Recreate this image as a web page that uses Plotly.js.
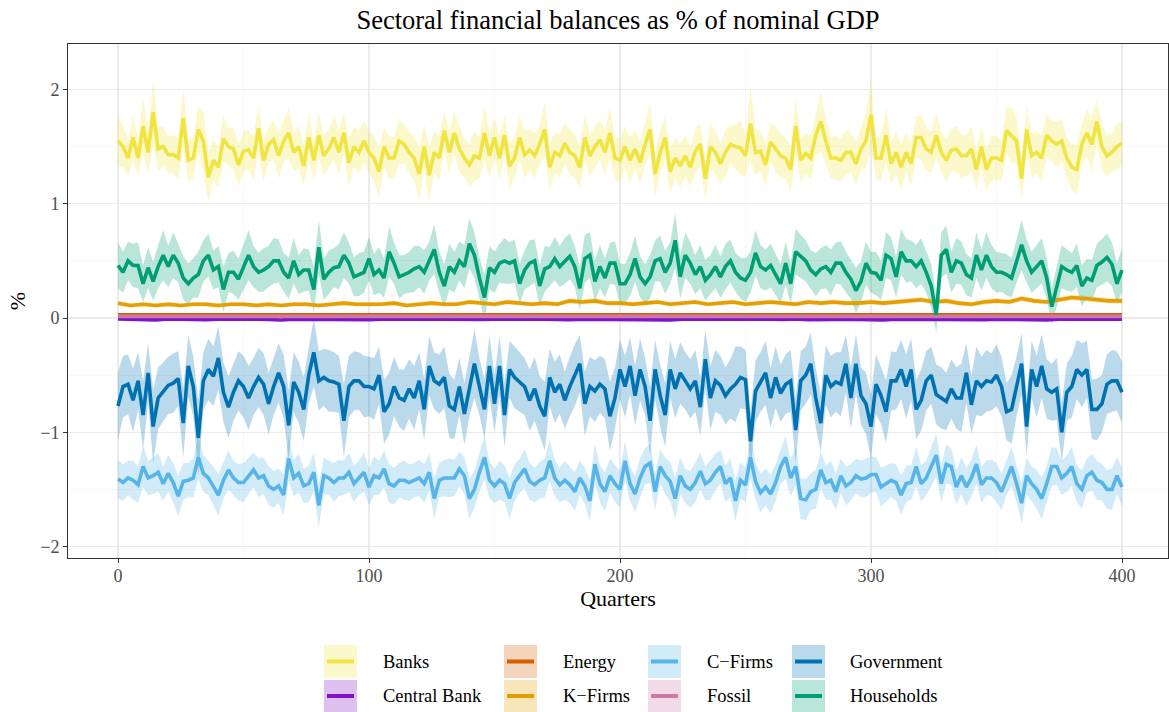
<!DOCTYPE html>
<html>
<head>
<meta charset="utf-8">
<script src="https://cdn.plot.ly/plotly-3.0.1.min.js"></script>
<style>html,body{margin:0;padding:0;background:#fff;}#chart{width:1169px;height:712px;}</style>
</head>
<body>
<div id="chart"></div>
<script>
// ---------- DATA ----------
const quarters = Array.from({length: 201}, (_, i) => i * 2);        // 0,2,...,400
const quartersCoarse = Array.from({length: 81}, (_, i) => i * 5);   // 0,5,...,400

const seriesNames = ["Banks", "Central Bank", "Energy", "K\u2212Firms", "C\u2212Firms", "Fossil", "Government", "Households"];

const banks = [
1.55,1.50,1.40,1.58,1.40,1.68,1.45,1.80,1.48,1.50,
1.43,1.43,1.40,1.75,1.38,1.40,1.65,1.55,1.23,1.38,
1.32,1.57,1.50,1.48,1.34,1.46,1.47,1.40,1.66,1.38,
1.52,1.56,1.42,1.55,1.62,1.45,1.50,1.33,1.58,1.38,
1.60,1.42,1.48,1.58,1.45,1.62,1.36,1.50,1.45,1.55,
1.45,1.40,1.28,1.50,1.40,1.40,1.55,1.52,1.45,1.40,
1.26,1.50,1.25,1.45,1.40,1.64,1.45,1.62,1.48,1.40,
1.34,1.42,1.40,1.62,1.42,1.58,1.40,1.60,1.33,1.40,
1.58,1.43,1.47,1.42,1.52,1.65,1.32,1.45,1.42,1.53,
1.45,1.42,1.32,1.58,1.42,1.50,1.56,1.45,1.62,1.40,
1.38,1.50,1.38,1.48,1.36,1.52,1.65,1.26,1.45,1.58,
1.28,1.40,1.33,1.42,1.32,1.46,1.52,1.22,1.50,1.45,
1.35,1.45,1.52,1.50,1.49,1.42,1.70,1.45,1.46,1.34,
1.54,1.48,1.42,1.40,1.30,1.68,1.38,1.44,1.40,1.60,
1.72,1.55,1.40,1.40,1.38,1.45,1.45,1.35,1.48,1.55,
1.78,1.40,1.40,1.60,1.35,1.45,1.32,1.45,1.35,1.58,
1.58,1.48,1.45,1.60,1.45,1.38,1.47,1.48,1.42,1.42,
1.48,1.30,1.50,1.30,1.40,1.40,1.38,1.64,1.60,1.55,
1.22,1.65,1.42,1.45,1.40,1.60,1.55,1.52,1.55,1.40,
1.32,1.30,1.52,1.62,1.52,1.72,1.50,1.42,1.45,1.50,
1.53];
const banksSpread = [
0.22,0.18,0.16,0.20,0.17,0.24,0.18,0.28,0.20,0.17,
0.16,0.17,0.18,0.26,0.19,0.17,0.20,0.27,0.22,0.18,
0.17,0.20,0.16,0.18,0.19,0.18,0.17,0.19,0.20,0.18,
0.16,0.17,0.20,0.18,0.22,0.17,0.19,0.18,0.21,0.17,
0.20,0.18,0.17,0.19,0.20,0.18,0.22,0.17,0.19,0.18,
0.18,0.20,0.22,0.17,0.19,0.18,0.20,0.17,0.18,0.19,
0.24,0.19,0.25,0.18,0.20,0.17,0.19,0.18,0.20,0.17,
0.19,0.22,0.18,0.24,0.20,0.18,0.19,0.17,0.20,0.18,
0.19,0.21,0.18,0.20,0.17,0.24,0.20,0.18,0.19,0.18,
0.20,0.19,0.18,0.20,0.18,0.19,0.17,0.20,0.22,0.19,
0.19,0.18,0.20,0.17,0.19,0.18,0.22,0.20,0.18,0.19,
0.20,0.18,0.19,0.18,0.17,0.20,0.19,0.18,0.20,0.19,
0.18,0.20,0.17,0.19,0.24,0.18,0.32,0.20,0.18,0.19,
0.17,0.20,0.19,0.18,0.20,0.25,0.19,0.18,0.20,0.17,
0.27,0.20,0.18,0.19,0.18,0.20,0.17,0.19,0.18,0.24,
0.30,0.18,0.20,0.24,0.18,0.19,0.20,0.17,0.19,0.18,
0.20,0.19,0.18,0.20,0.17,0.19,0.18,0.20,0.19,0.18,
0.20,0.17,0.19,0.18,0.20,0.19,0.18,0.20,0.24,0.20,
0.19,0.20,0.20,0.18,0.20,0.19,0.18,0.20,0.19,0.18,
0.20,0.22,0.18,0.20,0.24,0.19,0.20,0.18,0.17,0.20,
0.19];

const households = [
0.46,0.40,0.50,0.46,0.46,0.30,0.44,0.32,0.45,0.55,
0.45,0.55,0.48,0.35,0.30,0.35,0.38,0.50,0.55,0.42,
0.45,0.25,0.40,0.40,0.34,0.45,0.55,0.45,0.40,0.42,
0.45,0.50,0.50,0.40,0.35,0.50,0.38,0.42,0.42,0.25,
0.62,0.34,0.40,0.44,0.45,0.55,0.48,0.36,0.38,0.40,
0.52,0.38,0.42,0.35,0.58,0.48,0.36,0.38,0.40,0.43,
0.45,0.40,0.50,0.60,0.40,0.28,0.45,0.40,0.50,0.45,
0.65,0.55,0.35,0.18,0.44,0.40,0.48,0.50,0.48,0.50,
0.30,0.42,0.48,0.50,0.28,0.43,0.45,0.52,0.45,0.50,
0.54,0.45,0.26,0.52,0.55,0.32,0.45,0.35,0.48,0.48,
0.30,0.30,0.38,0.52,0.36,0.30,0.36,0.50,0.52,0.40,
0.48,0.68,0.36,0.55,0.48,0.38,0.45,0.33,0.38,0.45,
0.36,0.45,0.50,0.40,0.35,0.33,0.40,0.57,0.45,0.42,
0.46,0.38,0.30,0.48,0.30,0.58,0.54,0.50,0.42,0.38,
0.43,0.45,0.40,0.48,0.48,0.40,0.34,0.24,0.32,0.48,
0.40,0.39,0.33,0.55,0.52,0.36,0.58,0.50,0.50,0.45,
0.50,0.40,0.28,0.03,0.55,0.60,0.40,0.50,0.48,0.38,
0.35,0.55,0.42,0.55,0.45,0.40,0.40,0.38,0.35,0.50,
0.64,0.50,0.40,0.45,0.50,0.35,0.10,0.27,0.45,0.42,
0.40,0.46,0.28,0.35,0.33,0.46,0.49,0.53,0.47,0.30,
0.42];
const householdsSpread = [
0.20,0.18,0.17,0.19,0.20,0.16,0.18,0.17,0.19,0.22,
0.18,0.20,0.17,0.19,0.18,0.17,0.20,0.18,0.19,0.17,
0.18,0.20,0.17,0.19,0.18,0.20,0.22,0.18,0.17,0.19,
0.18,0.20,0.19,0.17,0.18,0.20,0.17,0.19,0.18,0.20,
0.24,0.18,0.19,0.17,0.20,0.20,0.18,0.17,0.19,0.18,
0.19,0.18,0.20,0.17,0.22,0.18,0.19,0.17,0.18,0.20,
0.18,0.19,0.17,0.22,0.18,0.19,0.20,0.18,0.17,0.19,
0.22,0.20,0.18,0.20,0.19,0.18,0.17,0.20,0.18,0.19,
0.18,0.17,0.20,0.19,0.18,0.20,0.17,0.19,0.18,0.20,
0.20,0.18,0.19,0.21,0.20,0.18,0.19,0.17,0.18,0.19,
0.18,0.17,0.19,0.20,0.18,0.17,0.19,0.18,0.20,0.19,
0.18,0.24,0.19,0.20,0.18,0.17,0.19,0.18,0.17,0.19,
0.18,0.20,0.19,0.17,0.18,0.19,0.18,0.20,0.19,0.18,
0.19,0.18,0.17,0.19,0.18,0.20,0.19,0.18,0.17,0.19,
0.18,0.19,0.20,0.18,0.19,0.18,0.17,0.20,0.18,0.19,
0.18,0.19,0.17,0.20,0.19,0.18,0.20,0.19,0.18,0.19,
0.20,0.18,0.19,0.16,0.20,0.21,0.18,0.20,0.19,0.18,
0.17,0.20,0.18,0.20,0.19,0.18,0.17,0.18,0.17,0.19,
0.22,0.19,0.18,0.19,0.20,0.18,0.16,0.18,0.19,0.18,
0.17,0.19,0.18,0.17,0.18,0.19,0.20,0.21,0.19,0.18,
0.19];

const government = [
-0.77,-0.60,-0.58,-0.72,-0.55,-0.85,-0.48,-0.95,-0.70,-0.65,
-0.59,-0.57,-0.53,-0.92,-0.42,-0.60,-1.05,-0.55,-0.45,-0.51,
-0.35,-0.65,-0.78,-0.65,-0.55,-0.60,-0.70,-0.60,-0.52,-0.58,
-0.75,-0.60,-0.48,-0.60,-0.94,-0.56,-0.65,-0.80,-0.50,-0.30,
-0.55,-0.52,-0.55,-0.56,-0.58,-0.90,-0.60,-0.55,-0.55,-0.60,
-0.60,-0.62,-0.50,-0.82,-0.75,-0.60,-0.70,-0.72,-0.62,-0.70,
-0.55,-0.80,-0.42,-0.55,-0.58,-0.52,-0.77,-0.80,-0.60,-0.84,
-0.60,-0.40,-0.60,-0.80,-0.42,-0.75,-0.42,-0.85,-0.45,-0.52,
-0.56,-0.60,-0.72,-0.62,-0.77,-0.86,-0.52,-0.65,-0.58,-0.72,
-0.60,-0.50,-0.40,-0.75,-0.60,-0.64,-0.58,-0.62,-0.86,-0.70,
-0.45,-0.60,-0.42,-0.68,-0.45,-0.60,-0.90,-0.45,-0.68,-0.85,
-0.45,-0.62,-0.48,-0.55,-0.62,-0.55,-0.78,-0.36,-0.70,-0.55,
-0.59,-0.68,-0.62,-0.58,-0.52,-0.54,-1.08,-0.64,-0.56,-0.48,
-0.70,-0.52,-0.66,-0.58,-0.55,-0.98,-0.55,-0.50,-0.40,-0.70,
-0.92,-0.50,-0.60,-0.56,-0.58,-0.40,-0.70,-0.40,-0.68,-0.75,
-0.95,-0.58,-0.68,-0.82,-0.55,-0.55,-0.45,-0.60,-0.45,-0.80,
-0.72,-0.55,-0.50,-0.67,-0.70,-0.73,-0.62,-0.70,-0.70,-0.48,
-0.76,-0.55,-0.60,-0.55,-0.56,-0.50,-0.60,-0.82,-0.80,-0.60,
-0.40,-0.95,-0.45,-0.60,-0.42,-0.62,-0.65,-0.62,-1.00,-0.65,
-0.60,-0.45,-0.50,-0.45,-0.80,-0.80,-0.75,-0.58,-0.55,-0.55,
-0.65];
const governmentSpread = [
0.30,0.27,0.26,0.28,0.25,0.30,0.26,0.32,0.27,0.26,
0.25,0.26,0.24,0.30,0.27,0.26,0.33,0.25,0.27,0.26,
0.28,0.26,0.27,0.25,0.26,0.27,0.28,0.25,0.26,0.27,
0.27,0.25,0.26,0.28,0.30,0.26,0.27,0.28,0.25,0.30,
0.26,0.25,0.27,0.26,0.25,0.32,0.27,0.26,0.25,0.27,
0.26,0.27,0.25,0.28,0.27,0.26,0.25,0.27,0.26,0.28,
0.25,0.27,0.26,0.25,0.26,0.27,0.28,0.26,0.25,0.27,
0.26,0.30,0.25,0.26,0.27,0.25,0.26,0.28,0.25,0.27,
0.26,0.25,0.27,0.28,0.26,0.30,0.25,0.27,0.26,0.25,
0.26,0.27,0.25,0.28,0.26,0.27,0.25,0.26,0.30,0.27,
0.26,0.27,0.25,0.26,0.27,0.25,0.30,0.26,0.27,0.28,
0.25,0.26,0.27,0.25,0.26,0.27,0.25,0.26,0.28,0.27,
0.26,0.25,0.26,0.33,0.27,0.26,0.25,0.27,0.26,0.28,
0.26,0.27,0.25,0.26,0.27,0.28,0.26,0.25,0.27,0.26,
0.25,0.26,0.27,0.26,0.28,0.25,0.27,0.26,0.25,0.27,
0.28,0.26,0.25,0.27,0.26,0.25,0.26,0.28,0.27,0.26,
0.27,0.26,0.25,0.26,0.27,0.25,0.26,0.27,0.30,0.26,
0.25,0.30,0.26,0.27,0.25,0.27,0.26,0.25,0.30,0.26,
0.27,0.26,0.25,0.27,0.28,0.26,0.25,0.27,0.26,0.25,
0.27,0.26,0.28,0.25,0.26,0.27,0.25,0.26,0.27,0.26,
0.27];

const cFirms = [
-1.41,-1.44,-1.40,-1.42,-1.46,-1.30,-1.40,-1.38,-1.35,-1.45,
-1.36,-1.44,-1.56,-1.43,-1.42,-1.40,-1.22,-1.36,-1.40,-1.47,
-1.55,-1.42,-1.33,-1.40,-1.44,-1.44,-1.38,-1.33,-1.40,-1.38,
-1.47,-1.50,-1.47,-1.55,-1.23,-1.40,-1.36,-1.47,-1.45,-1.35,
-1.64,-1.38,-1.40,-1.44,-1.40,-1.40,-1.35,-1.45,-1.40,-1.35,
-1.48,-1.38,-1.40,-1.32,-1.45,-1.47,-1.42,-1.42,-1.44,-1.42,
-1.40,-1.45,-1.35,-1.58,-1.42,-1.40,-1.40,-1.40,-1.32,-1.38,
-1.58,-1.50,-1.35,-1.22,-1.42,-1.47,-1.42,-1.45,-1.58,-1.44,
-1.38,-1.32,-1.43,-1.46,-1.42,-1.40,-1.25,-1.40,-1.46,-1.42,
-1.46,-1.52,-1.40,-1.47,-1.60,-1.28,-1.45,-1.52,-1.38,-1.45,
-1.50,-1.25,-1.45,-1.54,-1.40,-1.30,-1.27,-1.52,-1.30,-1.38,
-1.43,-1.58,-1.38,-1.47,-1.50,-1.44,-1.34,-1.45,-1.42,-1.35,
-1.30,-1.45,-1.40,-1.60,-1.42,-1.46,-1.22,-1.43,-1.53,-1.48,
-1.54,-1.44,-1.30,-1.22,-1.40,-1.30,-1.58,-1.59,-1.52,-1.50,
-1.33,-1.44,-1.42,-1.52,-1.38,-1.47,-1.44,-1.38,-1.41,-1.40,
-1.37,-1.37,-1.48,-1.45,-1.42,-1.44,-1.55,-1.45,-1.44,-1.30,
-1.45,-1.40,-1.30,-1.20,-1.45,-1.28,-1.30,-1.48,-1.38,-1.48,
-1.40,-1.28,-1.46,-1.40,-1.40,-1.44,-1.52,-1.40,-1.30,-1.45,
-1.62,-1.38,-1.45,-1.50,-1.58,-1.45,-1.30,-1.30,-1.40,-1.36,
-1.30,-1.45,-1.50,-1.38,-1.35,-1.42,-1.44,-1.50,-1.50,-1.38,
-1.48];
const cFirmsSpread = [
0.17,0.16,0.15,0.17,0.16,0.18,0.15,0.16,0.17,0.15,
0.16,0.17,0.18,0.16,0.15,0.17,0.19,0.16,0.15,0.17,
0.18,0.16,0.17,0.15,0.16,0.17,0.16,0.15,0.17,0.16,
0.17,0.16,0.15,0.18,0.19,0.16,0.17,0.15,0.16,0.17,
0.19,0.16,0.15,0.17,0.16,0.15,0.17,0.16,0.15,0.17,
0.16,0.17,0.15,0.16,0.17,0.16,0.15,0.17,0.16,0.15,
0.16,0.17,0.16,0.18,0.15,0.16,0.17,0.16,0.15,0.16,
0.18,0.16,0.17,0.19,0.16,0.15,0.17,0.16,0.18,0.16,
0.15,0.17,0.16,0.15,0.16,0.17,0.18,0.16,0.15,0.17,
0.16,0.17,0.15,0.16,0.18,0.17,0.16,0.17,0.15,0.16,
0.16,0.17,0.15,0.16,0.17,0.16,0.17,0.16,0.15,0.16,
0.17,0.18,0.16,0.15,0.16,0.17,0.16,0.15,0.17,0.16,
0.15,0.16,0.17,0.18,0.16,0.15,0.19,0.16,0.17,0.16,
0.17,0.16,0.15,0.19,0.16,0.17,0.18,0.18,0.16,0.17,
0.16,0.15,0.17,0.16,0.15,0.17,0.16,0.15,0.16,0.17,
0.16,0.15,0.17,0.16,0.15,0.16,0.17,0.16,0.15,0.17,
0.16,0.15,0.17,0.19,0.16,0.17,0.16,0.15,0.16,0.17,
0.16,0.17,0.16,0.15,0.16,0.17,0.16,0.15,0.17,0.16,
0.18,0.16,0.15,0.17,0.18,0.16,0.17,0.16,0.15,0.16,
0.17,0.16,0.17,0.15,0.16,0.17,0.16,0.17,0.18,0.16,
0.17];

const kFirms = [
0.13,0.11,0.12,0.11,0.12,0.11,0.12,0.12,0.11,0.12,
0.12,0.11,0.12,0.11,0.12,0.12,0.11,0.12,0.13,0.12,
0.12,0.12,0.13,0.11,0.12,0.13,0.12,0.12,0.14,0.13,
0.12,0.14,0.13,0.12,0.13,0.12,0.15,0.14,0.15,0.13,
0.13,0.12,0.13,0.14,0.12,0.13,0.14,0.12,0.13,0.14,
0.12,0.13,0.14,0.13,0.12,0.14,0.13,0.14,0.13,0.13,
0.14,0.13,0.14,0.15,0.16,0.14,0.15,0.13,0.12,0.14,
0.15,0.14,0.17,0.15,0.14,0.16,0.18,0.17,0.16,0.15,
0.15];
const kFirmsSpread = [
0.020,0.018,0.020,0.019,0.021,0.018,0.020,0.019,0.020,0.018,
0.020,0.019,0.021,0.018,0.020,0.019,0.020,0.018,0.021,0.019,
0.020,0.018,0.021,0.019,0.020,0.021,0.019,0.020,0.022,0.020,
0.019,0.021,0.020,0.019,0.021,0.020,0.022,0.021,0.022,0.020,
0.020,0.019,0.021,0.020,0.019,0.021,0.020,0.019,0.021,0.020,
0.019,0.020,0.021,0.020,0.019,0.021,0.020,0.021,0.020,0.020,
0.021,0.020,0.021,0.022,0.023,0.021,0.022,0.020,0.021,0.021,
0.022,0.021,0.024,0.022,0.021,0.023,0.025,0.024,0.023,0.022,
0.022];

const energy = [
0.028,0.027,0.028,0.028,0.027,0.028,0.028,0.027,0.028,0.028,
0.027,0.028,0.028,0.027,0.028,0.028,0.027,0.028,0.028,0.027,
0.028,0.028,0.027,0.028,0.028,0.027,0.028,0.028,0.027,0.028,
0.028,0.027,0.028,0.028,0.027,0.028,0.028,0.027,0.028,0.028,
0.027,0.028,0.028,0.027,0.028,0.028,0.027,0.028,0.028,0.027,
0.028,0.028,0.027,0.028,0.028,0.027,0.028,0.028,0.027,0.028,
0.028,0.027,0.028,0.028,0.027,0.028,0.028,0.027,0.028,0.028,
0.027,0.028,0.028,0.027,0.028,0.028,0.027,0.028,0.028,0.027,
0.028];
const energySpread = [
0.006,0.006,0.006,0.006,0.006,0.006,0.006,0.006,0.006,0.006,
0.006,0.006,0.006,0.006,0.006,0.006,0.006,0.006,0.006,0.006,
0.006,0.006,0.006,0.006,0.006,0.006,0.006,0.006,0.006,0.006,
0.006,0.006,0.006,0.006,0.006,0.006,0.006,0.006,0.006,0.006,
0.006,0.006,0.006,0.006,0.006,0.006,0.006,0.006,0.006,0.006,
0.006,0.006,0.006,0.006,0.006,0.006,0.006,0.006,0.006,0.006,
0.006,0.006,0.006,0.006,0.006,0.006,0.006,0.006,0.006,0.006,
0.006,0.006,0.006,0.006,0.006,0.006,0.006,0.006,0.006,0.006,
0.006];

const fossil = [
0.014,0.014,0.013,0.014,0.014,0.013,0.014,0.014,0.013,0.014,
0.014,0.013,0.014,0.014,0.013,0.014,0.014,0.013,0.014,0.014,
0.013,0.014,0.014,0.013,0.014,0.014,0.013,0.014,0.014,0.013,
0.014,0.014,0.013,0.014,0.014,0.013,0.014,0.014,0.013,0.014,
0.014,0.013,0.014,0.014,0.013,0.014,0.014,0.013,0.014,0.014,
0.013,0.014,0.014,0.013,0.014,0.014,0.013,0.014,0.014,0.013,
0.014,0.014,0.013,0.014,0.014,0.013,0.014,0.014,0.013,0.014,
0.014,0.013,0.014,0.014,0.013,0.014,0.014,0.013,0.014,0.014,
0.014];
const fossilSpread = [
0.014,0.014,0.014,0.014,0.014,0.014,0.014,0.014,0.014,0.014,
0.014,0.014,0.014,0.014,0.014,0.014,0.014,0.014,0.014,0.014,
0.014,0.014,0.014,0.014,0.014,0.014,0.014,0.014,0.014,0.014,
0.014,0.014,0.014,0.014,0.014,0.014,0.014,0.014,0.014,0.014,
0.014,0.014,0.014,0.014,0.014,0.014,0.014,0.014,0.014,0.014,
0.014,0.014,0.014,0.014,0.014,0.014,0.014,0.014,0.014,0.014,
0.014,0.014,0.014,0.014,0.014,0.014,0.014,0.014,0.014,0.014,
0.014,0.014,0.014,0.014,0.014,0.014,0.014,0.014,0.014,0.014,
0.014];

const centralBank = [
-0.008,-0.012,-0.010,-0.016,-0.009,-0.013,-0.010,-0.015,-0.011,-0.009,
-0.014,-0.010,-0.012,-0.017,-0.010,-0.011,-0.014,-0.009,-0.012,-0.010,
-0.015,-0.011,-0.012,-0.009,-0.016,-0.011,-0.010,-0.013,-0.009,-0.012,
-0.010,-0.014,-0.011,-0.009,-0.013,-0.010,-0.015,-0.011,-0.012,-0.009,
-0.012,-0.014,-0.010,-0.011,-0.016,-0.010,-0.012,-0.009,-0.013,-0.011,
-0.010,-0.014,-0.011,-0.012,-0.009,-0.015,-0.010,-0.012,-0.011,-0.013,
-0.010,-0.016,-0.011,-0.012,-0.009,-0.014,-0.010,-0.012,-0.011,-0.015,
-0.010,-0.013,-0.011,-0.012,-0.016,-0.010,-0.011,-0.014,-0.010,-0.013,
-0.011];
const centralBankSpread = [
0.010,0.010,0.010,0.010,0.010,0.010,0.010,0.010,0.010,0.010,
0.010,0.010,0.010,0.010,0.010,0.010,0.010,0.010,0.010,0.010,
0.010,0.010,0.010,0.010,0.010,0.010,0.010,0.010,0.010,0.010,
0.010,0.010,0.010,0.010,0.010,0.010,0.010,0.010,0.010,0.010,
0.010,0.010,0.010,0.010,0.010,0.010,0.010,0.010,0.010,0.010,
0.010,0.010,0.010,0.010,0.010,0.010,0.010,0.010,0.010,0.010,
0.010,0.010,0.010,0.010,0.010,0.010,0.010,0.010,0.010,0.010,
0.010,0.010,0.010,0.010,0.010,0.010,0.010,0.010,0.010,0.010,
0.010];

// ---------- STYLE ----------
const FONT = "'Liberation Serif', 'DejaVu Serif', serif";
const lineColors = {
  "Banks": "#F0E442", "Central Bank": "#8214C8", "Energy": "#D55E00", "K\u2212Firms": "#E69F00",
  "C\u2212Firms": "#56B4E9", "Fossil": "#CC79A7", "Government": "#0072B2", "Households": "#009E73"
};
const bandAlpha = 0.27;
function rgba(hex, a) {
  const r = parseInt(hex.slice(1,3),16), g = parseInt(hex.slice(3,5),16), b = parseInt(hex.slice(5,7),16);
  return `rgba(${r},${g},${b},${a})`;
}
function blendWhite(hex, a) {
  const c = [1,3,5].map(i => parseInt(hex.slice(i,i+2),16));
  return `rgb(${c.map(v => Math.round(255 - a*(255-v))).join(',')})`;
}

const seriesTable = [
  {name: "Banks", x: quarters, y: banks, s: banksSpread},
  {name: "Central Bank", x: quartersCoarse, y: centralBank, s: centralBankSpread},
  {name: "Energy", x: quartersCoarse, y: energy, s: energySpread},
  {name: "K\u2212Firms", x: quartersCoarse, y: kFirms, s: kFirmsSpread},
  {name: "C\u2212Firms", x: quarters, y: cFirms, s: cFirmsSpread},
  {name: "Fossil", x: quartersCoarse, y: fossil, s: fossilSpread},
  {name: "Government", x: quarters, y: government, s: governmentSpread},
  {name: "Households", x: quarters, y: households, s: householdsSpread}
];

const traces = [];
// ribbons first
seriesTable.forEach(d => {
  const upper = d.y.map((v, i) => v + d.s[i]);
  const lower = d.y.map((v, i) => v - d.s[i]);
  traces.push({
    type: "scatter", mode: "lines",
    x: d.x.concat(d.x.slice().reverse()),
    y: upper.concat(lower.slice().reverse()),
    fill: "toself", fillcolor: rgba(lineColors[d.name], bandAlpha),
    line: {width: 0, color: "rgba(0,0,0,0)"},
    hoverinfo: "skip", showlegend: false
  });
});
// lines on top
seriesTable.forEach(d => {
  traces.push({
    type: "scatter", mode: "lines", name: d.name,
    x: d.x, y: d.y,
    line: {color: lineColors[d.name], width: 3.6},
    showlegend: false
  });
});

// ---------- LAYOUT ----------
const W = 1169, H = 712;
const M = {l: 68, r: 1, t: 44, b: 154};
const PW = W - M.l - M.r, PH = H - M.t - M.b;
const px2x = p => (p - M.l) / PW;
const py2y = p => (H - M.b - p) / PH;

// manual ggplot-style legend (2 rows x 4 columns, filled key with line)
const legendCols = [324, 504, 648, 792];
const legendTextX = [381, 561, 705, 848];
const legendRows = [[645, 678], [680, 712]];
const legendOrder = [["Banks", "Central Bank"], ["Energy", "K\u2212Firms"], ["C\u2212Firms", "Fossil"], ["Government", "Households"]];
const shapes = [], annotations = [];
legendOrder.forEach((col, ci) => {
  col.forEach((nm, ri) => {
    const [y0, y1] = legendRows[ri];
    const x0 = legendCols[ci], x1 = x0 + 33;
    shapes.push({type: "rect", xref: "paper", yref: "paper",
      x0: px2x(x0), x1: px2x(x1), y0: py2y(y1), y1: py2y(y0),
      fillcolor: blendWhite(lineColors[nm], bandAlpha), line: {width: 0}, layer: "above"});
    const yc = py2y((y0 + y1) / 2);
    shapes.push({type: "line", xref: "paper", yref: "paper",
      x0: px2x(x0 + 3), x1: px2x(x1 - 3), y0: yc, y1: yc,
      line: {color: lineColors[nm], width: 4}, layer: "above"});
    annotations.push({xref: "paper", yref: "paper", x: px2x(legendTextX[ci]), y: yc,
      xanchor: "left", yanchor: "middle", showarrow: false, text: nm,
      font: {family: FONT, size: 18.5, color: "#000"}});
  });
});

const layout = {
  width: W, height: H,
  margin: M,
  paper_bgcolor: "#fff", plot_bgcolor: "#fff",
  showlegend: false,
  title: {text: "Sectoral financial balances as % of nominal GDP",
          font: {family: FONT, size: 26.5, color: "#000"},
          x: 0.5, xref: "paper", xanchor: "center", y: 1 - 20 / H, yref: "container", yanchor: "middle"},
  xaxis: {
    range: [(M.l - 118) / 2.51, (M.l + PW - 118) / 2.51],
    tickmode: "array", tickvals: [0, 100, 200, 300, 400],
    ticks: "outside", ticklen: 4, tickcolor: "#333", tickwidth: 1,
    ticklabelstandoff: -3,
    tickfont: {family: FONT, size: 18, color: "#4d4d4d"},
    showgrid: true, gridcolor: "#ebebeb", gridwidth: 1.1,
    minor: {tickvals: [50, 150, 250, 350], showgrid: true, gridcolor: "#f2f2f2", gridwidth: 0.6, ticks: ""},
    zeroline: false, showline: true, mirror: true, linecolor: "#333", linewidth: 1,
    title: {text: "Quarters", font: {family: FONT, size: 22, color: "#000"}, standoff: 0},
    automargin: false
  },
  yaxis: {
    range: [-(558 - 318) / 114.25, (318 - 44) / 114.25],
    tickmode: "array", tickvals: [-2, -1, 0, 1, 2],
    ticks: "outside", ticklen: 4, tickcolor: "#333", tickwidth: 1,
    tickfont: {family: FONT, size: 18, color: "#4d4d4d"},
    showgrid: true, gridcolor: "#ebebeb", gridwidth: 1.1,
    minor: {tickvals: [-1.5, -0.5, 0.5, 1.5], showgrid: true, gridcolor: "#f2f2f2", gridwidth: 0.6, ticks: ""},
    zeroline: false, showline: true, mirror: true, linecolor: "#333", linewidth: 1,
    title: {text: "%", font: {family: FONT, size: 22, color: "#000"}, standoff: 8},
    automargin: false
  },
  shapes: shapes,
  annotations: annotations
};

Plotly.newPlot("chart", traces, layout, {displayModeBar: false, staticPlot: true});
</script>
</body>
</html>
